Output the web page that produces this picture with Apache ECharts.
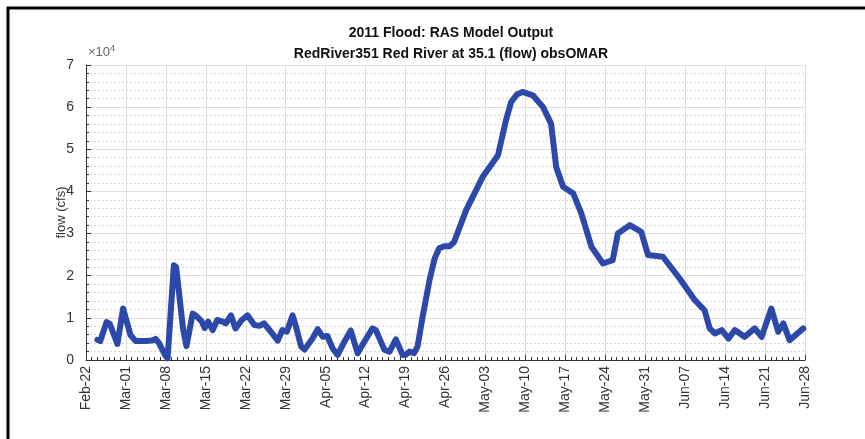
<!DOCTYPE html>
<html>
<head>
<meta charset="utf-8">
<title>2011 Flood: RAS Model Output</title>
<script src="https://cdn.jsdelivr.net/npm/echarts@6/dist/echarts.min.js"></script>
<style>
  html, body { margin: 0; padding: 0; background: #fff; }
  #chart { width: 865px; height: 439px; }
</style>
</head>
<body>
<div id="chart"></div>
<script>
// days after Feb-22-2011, flow in cfs
var days = [2, 2.5, 3.6, 4.2, 5.5, 6.5, 7.0, 7.8, 8.7, 10.5, 11.5, 12.2, 12.8, 13.9, 14.3,
  15.4, 15.8, 17.0, 17.6, 18.7, 19.3, 20.3, 20.8, 21.4, 22.2, 23.0, 23.9, 24.5, 25.4, 26.2,
  27.3, 28.3, 29.5, 30.4, 31.2, 32.4, 33.6, 34.4, 35.2, 36.2, 36.8, 37.7, 38.3, 39.7, 40.6,
  41.5, 42.3, 43.2, 44.1, 45.3, 46.4, 47.6, 48.8, 50.2, 50.8, 52.3, 53.2, 54.3, 55.5, 56.0,
  56.7, 57.5, 58.1, 59.0, 60.2, 61.1, 61.9, 62.8, 63.7, 64.5, 66.6, 69.5, 72.2, 73.6, 74.5,
  75.5, 76.5, 78.3, 80.1, 81.5, 82.4, 83.6, 85.4, 86.8, 88.6, 90.6, 92.3, 93.2, 95.3, 97.3,
  98.5, 101.1, 104, 106.7, 108.4, 109.3, 110.2, 111.4, 112.6, 113.7, 115.4, 117.2, 118.4, 120.1,
  121.3, 122.2, 123.3, 125.7];
var flow = [4800, 4500, 9000, 8500, 3800, 12200, 9800, 5900, 4500, 4500, 4600, 5000, 4000, 1000, 400,
  22500, 22000, 7500, 3300, 11000, 10500, 9100, 7600, 9100, 7100, 9500, 9100, 8700, 10600, 7500,
  9500, 10600, 8300, 8100, 8700, 6700, 4600, 7100, 6700, 10600, 7900, 3200, 2500, 5100, 7300,
  5500, 5700, 2800, 1200, 4400, 7000, 1600, 4400, 7500, 7100, 2400, 2000, 4900, 1200, 1200,
  2000, 1600, 3200, 10300, 19000, 24100, 26500, 27000, 27000, 28000, 35500, 43400, 48600, 56900, 61200,
  63000, 63600, 62800, 60000, 56100, 45800, 41100, 39500, 34800, 26800, 22900, 23700, 30000, 32000, 30400,
  24900, 24500, 19400, 14200, 11800, 7500, 6300, 7100, 5100, 7100, 5500, 7500, 5500, 12200,
  6700, 8700, 4700, 7500];

var startDate = new Date(2011, 1, 22);
var months = ['Jan', 'Feb', 'Mar', 'Apr', 'May', 'Jun', 'Jul', 'Aug', 'Sep', 'Oct', 'Nov', 'Dec'];

function dayLabel(d) {
  var t = new Date(startDate.getTime());
  t.setDate(t.getDate() + Math.round(d));
  var dd = t.getDate();
  return months[t.getMonth()] + '-' + (dd < 10 ? '0' + dd : dd);
}

var pts = [];
for (var i = 0; i < days.length; i++) {
  pts.push([days[i], flow[i]]);
}

var chart = echarts.init(document.getElementById('chart'), null, { renderer: 'canvas' });
var font = 'Liberation Sans, Arial, sans-serif';

var option = {
  backgroundColor: '#ffffff',
  animation: false,
  title: {
    text: '2011 Flood: RAS Model Output\nRedRiver351 Red River at 35.1 (flow) obsOMAR',
    left: 446,
    top: 18,
    textAlign: 'center',
    textStyle: {
      fontFamily: font,
      fontSize: 14,
      fontWeight: 'bold',
      color: '#111',
      lineHeight: 21
    }
  },
  grid: {
    left: 86,
    right: 60,
    top: 65,
    bottom: 79
  },
  xAxis: {
    type: 'value',
    min: 0,
    max: 126,
    interval: 7,
    axisLine: { lineStyle: { color: '#333', width: 1 } },
    axisTick: { inside: true, length: 5, lineStyle: { color: '#333' } },
    minorTick: { show: true, splitNumber: 7, length: 3, lineStyle: { color: '#333' } },
    splitLine: { show: true, lineStyle: { color: '#dedede', width: 1 } },
    axisLabel: {
      rotate: 90,
      margin: 6,
      fontFamily: font,
      fontSize: 14,
      color: '#333',
      formatter: function (v) { return dayLabel(v); }
    }
  },
  yAxis: {
    type: 'value',
    min: 0,
    max: 70000,
    interval: 10000,
    name: 'flow (cfs)',
    nameLocation: 'middle',
    nameGap: 18,
    nameMoveOverlap: false,
    nameTextStyle: { fontFamily: font, fontSize: 13, color: '#333' },
    axisLine: { show: true, lineStyle: { color: '#333', width: 1 } },
    axisTick: { inside: true, length: 5, lineStyle: { color: '#333' } },
    minorTick: { show: true, splitNumber: 5, length: 3, lineStyle: { color: '#333' } },
    splitLine: { show: true, lineStyle: { color: '#dedede', width: 1 } },
    minorSplitLine: { show: true, lineStyle: { color: '#d8d8d8', width: 1, type: [2, 2] } },
    axisLabel: {
      margin: 12,
      fontFamily: font,
      fontSize: 14,
      color: '#333',
      formatter: function (v) { return String(v / 10000); }
    }
  },
  graphic: [
    {
      type: 'text',
      left: 88,
      top: 44,
      style: {
        text: '×10{s|4}',
        rich: { s: { fontSize: 9, verticalAlign: 'top', padding: [0, 0, 7, 0], fill: '#666', fontFamily: font } },
        fontFamily: font,
        fontSize: 13,
        fill: '#666'
      }
    },
    {
      type: 'polyline',
      shape: { points: [[8, 439], [8, 8], [865, 8]] },
      style: { stroke: '#000', lineWidth: 3, fill: null }
    }
  ],
  series: [{
    type: 'line',
    data: pts,
    showSymbol: false,
    symbol: 'none',
    lineStyle: { color: '#2c49a9', width: 6, join: 'round', cap: 'round' },
    z: 3
  }]
};

chart.setOption(option);
</script>
</body>
</html>
